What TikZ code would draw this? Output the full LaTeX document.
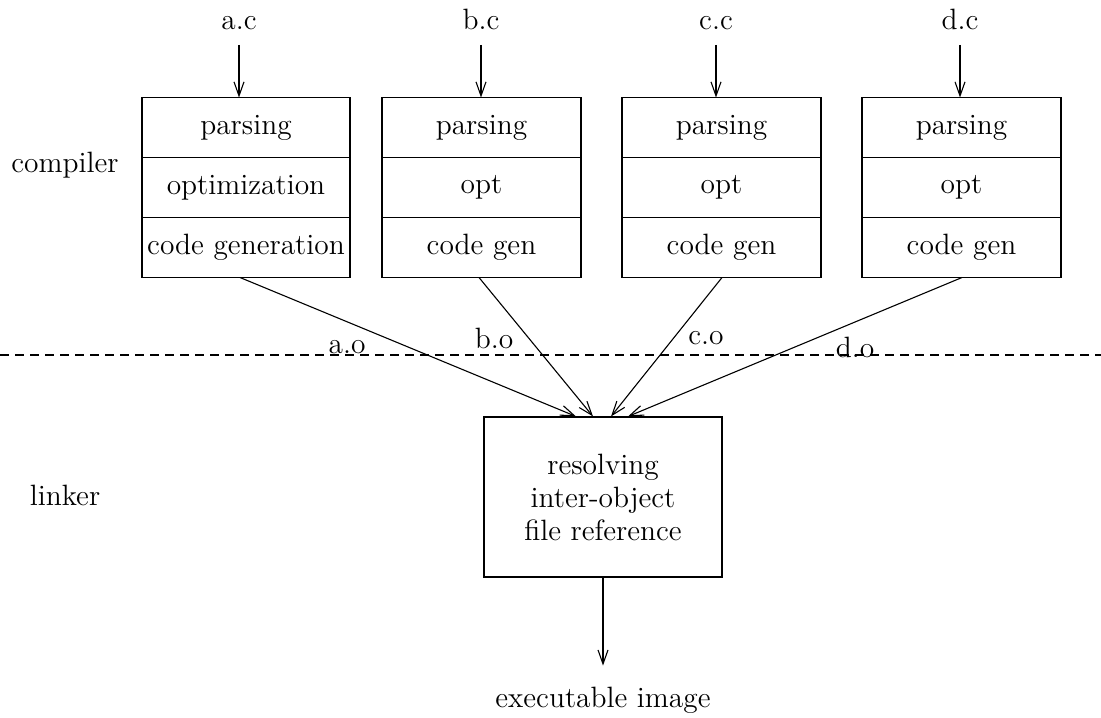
\documentclass[tikz,border=0pt]{standalone}
\usetikzlibrary{arrows.meta,positioning}
\begin{document}
\begin{tikzpicture}[x=0.5pt,y=-0.5pt,line width=0.55pt,
  font=\fontsize{14.7}{16.5}\selectfont,
  part/.style = {draw, minimum height=30pt, inner sep=0pt, outer sep=0pt},
  arr/.style = {-{Straight Barb[length=7pt,width=5pt]}}]
\useasboundingbox (0,0) rectangle (1101,717);
% compiler boxes
\foreach \n/\x/\w/\s/\o/\c/\p in {a/246/104/239/optimization/code generation/240,
    b/481.5/99.5/481/opt/code gen/479, c/721.5/99.5/716/opt/code gen/722,
    d/961.5/99.5/960/opt/code gen/962}{
  \node[part, minimum width=\w pt] (\n1) at (\x,127.5) {parsing};
  \node[part, minimum width=\w pt, below=0pt of \n1] (\n2) {\o};
  \node[part, minimum width=\w pt, below=0pt of \n2] (\n3) {\c};
  \node[anchor=base] (\n src) at (\s,30) {\n.c};
  \coordinate (\n in) at (\s,45);
  \coordinate (\n out) at (\p,0);
  \draw[arr] (\n in) -- (\n in |- \n1.north);
}
\node (comp) at (65,165) {compiler};
\node (link label) at (65,495) {linker};
\draw[dash pattern=on 4.5pt off 3pt] (0,355) -- (1101,355);
% linker
\node[draw, minimum width=119pt, minimum height=80pt, align=center] (link) at (603,497)
  {resolving\\inter-object\\file reference};
\foreach \n/\e in {a/-13.5, b/-5, c/4, d/12.5}
  \draw[arr] (\n3.south -| \n out) -- ([xshift=\e pt]link.north);
\node (ao) at (347,347) {a.o};
\node (bo) at (494,338) {b.o};
\node (co) at (706,338) {c.o};
\node (do) at (855,347) {d.o};
\node (exe) at (603,700) {executable image};
\draw[arr, shorten >=7pt] (link.south) -- (exe.north);
\end{tikzpicture}
\end{document}
